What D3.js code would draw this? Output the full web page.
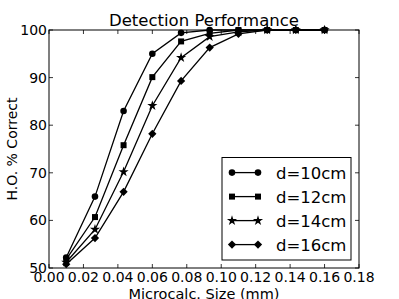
<!DOCTYPE html>
<html>
<head>
<meta charset="utf-8">
<script src="https://cdn.jsdelivr.net/npm/d3@7"></script>
<style>
  body { margin: 0; background: #fff; }
  svg { display: block; font-family: "DejaVu Sans", sans-serif; }
</style>
</head>
<body>
<svg id="chart" width="399" height="299"></svg>
<script>
// microcalcification sizes (mm)
const sizes = [0.01, 0.0267, 0.0433, 0.06, 0.0767, 0.0933, 0.11, 0.1267, 0.1433, 0.16]

const d10 = [52.2, 65.0, 83.0, 95.0, 99.4, 100, 100, 100, 100, 100]
const d12 = [51.8, 60.7, 75.8, 90.1, 97.6, 99.3, 100, 100, 100, 100]
const d14 = [51.2, 58.1, 70.2, 84.1, 94.2, 98.6, 99.6, 100, 100, 100]
const d16 = [50.8, 56.3, 66.0, 78.2, 89.3, 96.3, 99.2, 100, 100, 100]

const seriesNames = ["d=10cm", "d=12cm", "d=14cm", "d=16cm"]
const xTicks = [0, 0.02, 0.04, 0.06, 0.08, 0.10, 0.12, 0.14, 0.16, 0.18]
const yTicks = [50, 60, 70, 80, 90, 100]

const series = [d10, d12, d14, d16].map((vals, i) => ({
    name: seriesNames[i],
    values: vals.map((v, j) => ({ x: sizes[j], y: v }))
}))

// circle, square, star, diamond (a square turned 45deg)
const symbols = [d3.symbolCircle, d3.symbolSquare, d3.symbolStar, d3.symbolSquare]
const symSize = [34, 36, 32, 34]
const symRot = [0, 0, 0, 45]

const margin = { top: 30, right: 40, bottom: 31, left: 49 }
const width = 399, height = 299

const svg = d3.select("#chart")

const x = d3.scaleLinear().domain([0, 0.18]).range([margin.left, width - margin.right])
const y = d3.scaleLinear().domain([50, 100]).range([height - margin.bottom, margin.top])

// frame
svg.append("rect")
    .attr("x", x(0)).attr("y", y(100))
    .attr("width", x(0.18) - x(0)).attr("height", y(50) - y(100))
    .attr("fill", "none").attr("stroke", "#000").attr("stroke-width", 1)

// inward ticks on all four sides
const tickLen = 4
const tg = svg.append("g").attr("stroke", "#000").attr("stroke-width", 0.8)
xTicks.forEach(t => {
    tg.append("line").attr("x1", x(t)).attr("x2", x(t)).attr("y1", y(50)).attr("y2", y(50) - tickLen)
    tg.append("line").attr("x1", x(t)).attr("x2", x(t)).attr("y1", y(100)).attr("y2", y(100) + tickLen)
})
yTicks.forEach(t => {
    tg.append("line").attr("x1", x(0)).attr("x2", x(0) + tickLen).attr("y1", y(t)).attr("y2", y(t))
    tg.append("line").attr("x1", x(0.18)).attr("x2", x(0.18) - tickLen).attr("y1", y(t)).attr("y2", y(t))
})

// tick labels
svg.append("g").selectAll("text").data(xTicks).join("text")
    .attr("x", d => x(d)).attr("y", y(50) + 14)
    .attr("text-anchor", "middle")
    .attr("font-size", 14)
    .text(d => d3.format(".2f")(d))

svg.append("g").selectAll("text").data(yTicks).join("text")
    .attr("x", x(0) - 2).attr("y", d => y(d) + 5)
    .attr("text-anchor", "end")
    .attr("font-size", 14)
    .text(d => d)

// titles
svg.append("text")
    .attr("x", (x(0) + x(0.18)) / 2).attr("y", 26)
    .attr("text-anchor", "middle").attr("font-size", 16.5)
    .text("Detection Performance")

svg.append("text")
    .attr("x", (x(0) + x(0.18)) / 2).attr("y", 299)
    .attr("text-anchor", "middle").attr("font-size", 14.5)
    .text("Microcalc. Size (mm)")

svg.append("text")
    .attr("transform", `translate(17,${(y(50) + y(100)) / 2}) rotate(-90)`)
    .attr("text-anchor", "middle").attr("font-size", 14)
    .text("H.O. % Correct")

// lines + markers
const line = d3.line().x(d => x(d.x)).y(d => y(d.y))

const g = svg.append("g")
series.forEach((s, i) => {
    g.append("path")
        .datum(s.values)
        .attr("fill", "none").attr("stroke", "#000").attr("stroke-width", 1.3)
        .attr("d", line)
    g.selectAll(null).data(s.values).join("path")
        .attr("transform", d => `translate(${x(d.x)},${y(d.y)}) rotate(${symRot[i]})`)
        .attr("d", d3.symbol().type(symbols[i]).size(symSize[i]))
        .attr("fill", "#000")
})

// legend
const lg = svg.append("g")
lg.append("rect")
    .attr("x", 222).attr("y", 157.5).attr("width", 129).attr("height", 102.5)
    .attr("fill", "#fff").attr("stroke", "#000").attr("stroke-width", 1)
series.forEach((s, i) => {
    const yy = 172.6 + i * 24
    lg.append("line").attr("x1", 232).attr("x2", 258).attr("y1", yy).attr("y2", yy)
        .attr("stroke", "#000").attr("stroke-width", 1.3)
    ;[232, 258].forEach(px => {
        lg.append("path")
            .attr("transform", `translate(${px},${yy}) rotate(${symRot[i]})`)
            .attr("d", d3.symbol().type(symbols[i]).size(symSize[i]))
            .attr("fill", "#000")
    })
    lg.append("text").attr("x", 276).attr("y", yy + 6)
        .attr("font-size", 16.5)
        .text(s.name)
})
</script>
</body>
</html>
